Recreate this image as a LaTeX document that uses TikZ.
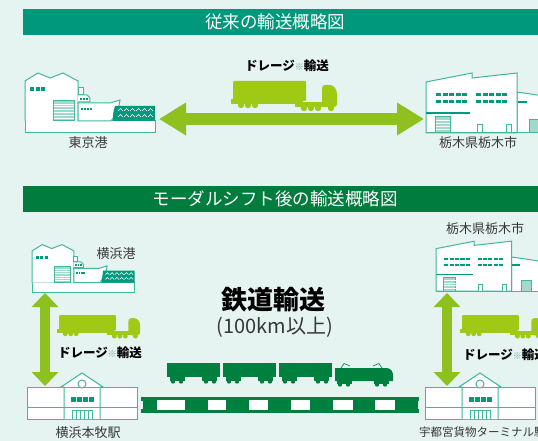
\documentclass[tikz,border=0pt]{standalone}
\usepackage{fontspec}
\newfontfamily\jp{Noto Sans CJK JP}
\usetikzlibrary{arrows.meta}

\definecolor{bgc}{RGB}{229,243,241}
\definecolor{bannerA}{RGB}{0,152,124}
\definecolor{bannerB}{RGB}{0,124,62}
\definecolor{lime}{RGB}{142,192,32}
\definecolor{truckc}{RGB}{160,201,22}
\definecolor{railc}{RGB}{0,128,62}
\definecolor{iconline}{RGB}{64,184,154}
\definecolor{iconfill}{RGB}{0,154,124}
\definecolor{shutter}{RGB}{160,218,204}
\definecolor{txt}{RGB}{55,55,55}
\definecolor{note}{RGB}{120,176,152}

\newcommand{\kome}{{\color{note}\fontsize{9}{9}\selectfont ※}}

\tikzset{
  banner/.style={fill=#1, draw=none},
  bannertext/.style={text=white, font=\jp\fontsize{17.5}{17.5}\selectfont, inner sep=0pt},
  label/.style={text=txt, font=\jp\fontsize{13}{13}\selectfont, inner sep=0pt},
  drayage/.style={text=black, font=\jp\bfseries\fontsize{12.5}{12.5}\selectfont, inner sep=0pt},
  bigarrow/.style={draw=lime, line width=12pt,
    {Triangle[length=27pt,width=31pt]}-{Triangle[length=27pt,width=31pt]}},
  vertarrow/.style={draw=lime, line width=10pt,
    {Triangle[length=14pt,width=26pt]}-{Triangle[length=14pt,width=26pt]}},
  outline/.style={draw=iconline, line width=1pt, fill=white},
  % harbour: warehouse, ship and water on a quay
  port/.pic={
    \draw[outline] (0,0) rectangle (130,-12);
    \draw[outline] (0,-12) -- (0,-52) -- (13,-60) -- (25,-55) -- (38,-60) -- (53,-52) -- (53,-12);
    \foreach \i in {0,1,2} \fill[iconfill] (5+\i*5.5,-46) rectangle ++(4,4);
    \draw[outline, fill=shutter] (28,-32) rectangle (49,-12);
    \foreach \j in {1,...,6} \draw[white, line width=0.6pt] (28.5,-32+\j*2.9) -- (48.5,-32+\j*2.9);
    \draw[outline] (53,-45) rectangle (58,-38);
    \draw[outline] (53,-38) -- (62,-38) .. controls (65,-36) .. (65,-31) -- (53,-31);
    \foreach \i in {0,1,2} \fill[iconfill] (55+\i*3,-35) rectangle ++(2,2);
    \draw[outline] (53,-12) -- (53,-30) -- (85,-30) -- (95,-33) .. controls (93,-22) .. (86,-12) -- cycle;
    \foreach \i in {0,...,3} \fill[iconfill] (56+\i*3,-25) rectangle ++(2,2);
    \fill[iconfill] (90,-27) .. controls (88,-20) .. (88,-12) -- (130,-12) -- (130,-27) -- cycle;
    \foreach \i in {0,...,5} {
      \draw[white, line width=0.6pt] (93+\i*6,-22) -- (95.5+\i*6,-24.5) -- (98+\i*6,-22);
      \draw[white, line width=0.6pt] (93+\i*6,-16) -- (95.5+\i*6,-18.5) -- (98+\i*6,-16);
    }
  },
  % factory with a lower annex
  factory/.pic={
    \draw[outline] (91,0) -- (91,-41) -- (125,-36) -- (125,0);
    \draw[outline] (0,0) -- (0,-51) -- (46,-60) -- (46,-55) -- (91,-60) -- (91,0) -- cycle;
    \foreach \r in {-40,-33} {
      \foreach \i in {0,...,4} {
        \fill[iconfill] (10+\i*6.5,\r) rectangle ++(5,3);
        \fill[iconfill] (50+\i*6.5,\r) rectangle ++(5,3);
      }
    }
    \draw[iconfill, line width=1.6pt] (0,-20) -- (44,-20);
    \draw[outline, fill=shutter] (9,-16) rectangle (24,0);
    \foreach \j in {1,...,4} \draw[white, line width=0.6pt] (9.5,-16+\j*3.2) -- (23.5,-16+\j*3.2);
    \draw[outline] (51,-8) rectangle (56,0);
    \draw[outline] (80,-8) rectangle (85,0);
    \draw[iconfill, line width=1.6pt] (92,-31) -- (101,-31);
    \draw[outline, fill=shutter] (103,-13) rectangle (115,0);
    \draw[iconline, line width=1pt] (0,0) -- (125,0);
  },
  % station building with a central gable
  station/.pic={
    \draw[outline] (0,0) rectangle (110,-32);
    \draw[iconline, line width=1pt] (0,-12) -- (110,-12);
    \draw[outline] (37,0) -- (37,-32) -- (34,-32) -- (55,-46) -- (76,-32) -- (73,-32) -- (73,0);
    \draw[iconline, line width=1pt] (37,-32) -- (73,-32);
    \draw[iconline, line width=1pt, fill=white] (55,-35) circle (4);
    \draw[iconline, line width=1pt] (0,-12) -- (110,-12);
    \foreach \i in {0,...,3} \fill[iconfill] (44+\i*6,-22) rectangle ++(5,4.5);
    \draw[iconline, line width=0.8pt] (45,0) -- (45,-9) -- (65,-9) -- (65,0);
    \foreach \i in {1,...,4} \draw[iconline, line width=0.8pt] (45+\i*4,0) -- (45+\i*4,-9);
  },
  % articulated lorry
  lorry/.pic={
    \fill[truckc, rounded corners=1pt] (0,0) rectangle (73,20);
    \fill[truckc] (-2,18) rectangle (70,23);
    \foreach \x in {8,15,22} \fill[truckc] (\x,24) circle (3.2);
    \fill[truckc] (62,21) rectangle (92,26);
    \fill[truckc, rounded corners=3pt] (89,4) -- (100,4) -- (104,10) -- (104,26) -- (89,26) -- cycle;
    \foreach \x in {71,78,85,98} \fill[truckc] (\x,27) circle (3.2);
  },
  % freight wagon
  wagon/.pic={
    \fill[railc] (0,0) rectangle (53,14);
    \fill[railc] (3,14) rectangle (18,18);
    \fill[railc] (35,14) rectangle (50,18);
    \foreach \x in {6,14,39,47} \fill[railc] (\x,18.5) circle (2.2);
  },
}

\begin{document}
\begin{tikzpicture}[x=1pt,y=-1pt]
\useasboundingbox (0,0) rectangle (538,441);
\clip (0,0) rectangle (538,441);
\fill[bgc] (0,0) rectangle (538,441);

% ---------- conventional route ----------
\fill[banner=bannerA] (23,9) rectangle (538,35);
\node[bannertext] (t1) at (275,22) {従来の輸送概略図};

\node[drayage] (d1) at (287,66) {ドレージ\kome 輸送};
\pic at (233,81) {lorry};
\coordinate (a1) at (159,119);
\coordinate (a2) at (424,119);
\draw[bigarrow] (a1) -- (a2);

\pic at (25,133) {port};
\node[label] (l1) at (88,143) {東京港};
\pic at (426,133) {factory};
\node[label] (l2) at (478,143) {栃木県栃木市};

% ---------- after the modal shift ----------
\fill[banner=bannerB] (23,186) rectangle (538,212);
\node[bannertext] (t2) at (275,199) {モーダルシフト後の輸送概略図};

\pic[scale=0.79] at (32,292) {port};
\node[label] (l3) at (116,254) {横浜港};
\pic[scale=0.83] at (436,291) {factory};
\node[label] (l4) at (485,229) {栃木県栃木市};

\node[text=black, font=\jp\bfseries\fontsize{26}{26}\selectfont, inner sep=0pt] (rail) at (273,300) {鉄道輸送};
\node[text=txt, font=\jp\fontsize{20}{20}\selectfont, inner sep=0pt] (dist) at (275,327) {(100km以上)};

% vertical drayage legs
\coordinate (v1) at (45,293);
\coordinate (v2) at (45,386);
\draw[vertarrow] (v1) -- (v2);
\coordinate (v3) at (447,293);
\coordinate (v4) at (447,386);
\draw[vertarrow] (v3) -- (v4);
\pic[scale=0.78] at (59,315) {lorry};
\node[drayage] (d2) at (100,353) {ドレージ\kome 輸送};
\pic[scale=0.78] at (462,315) {lorry};
\node[drayage, anchor=west] (d3) at (463,355) {ドレージ\kome 輸送};

% stations
\pic at (27,419) {station};
\node[label] (l5) at (88,433) {横浜本牧駅};
\pic at (425,419) {station};
\node[label, font=\jp\fontsize{11.5}{11.5}\selectfont, anchor=west] (l6) at (419,432) {宇都宮貨物ターミナル駅};

% train
\pic at (167,363) {wagon};
\pic at (223,363) {wagon};
\pic at (279,363) {wagon};
\fill[railc] (335,381) -- (335,368) -- (385,368) .. controls (392,368) and (393,372) .. (393,376) -- (393,381) -- cycle;
\fill[railc] (337,380) rectangle (352,384);
\fill[railc] (374,380) rectangle (389,384);
\foreach \x in {340,348,377,385} \fill[railc] (\x,384.5) circle (2.2);
\draw[railc, line width=0.6pt] (341,368) -- (344,363.5) -- (350,366);
\draw[railc, line width=0.6pt] (382,368) -- (379,363.5) -- (373,366);

% track
\fill[railc] (141,397) rectangle (419,413);
\foreach \a/\b in {157/185,208/226,249/268,291/310,333/353,375/395}
  \fill[white] (\a,399.5) rectangle (\b,409.5);
\fill[bgc] (141,401) rectangle (142.5,409);
\fill[bgc] (417.5,401) rectangle (419,409);
\end{tikzpicture}
\end{document}
